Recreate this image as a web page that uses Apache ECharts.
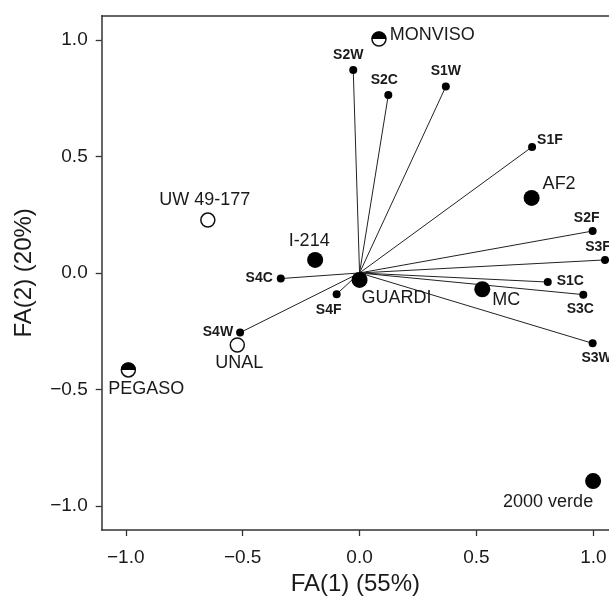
<!DOCTYPE html>
<html>
<head>
<meta charset="utf-8">
<script src="https://cdn.jsdelivr.net/npm/echarts@6/dist/echarts.min.js"></script>
<style>
  html, body { margin: 0; padding: 0; background: #fff; }
  #chart { width: 609px; height: 596px; }
</style>
</head>
<body>
<div id="chart"></div>
<script>
// loading vectors (drawn from origin)
const vectorNames = ['S2W', 'S2C', 'S1W', 'S1F', 'S2F', 'S3F', 'S1C', 'S3C', 'S3W', 'S4C', 'S4F', 'S4W'];
const vectorX = [-0.027, 0.123, 0.369, 0.738, 0.997, 1.050, 0.805, 0.957, 0.997, -0.337, -0.098, -0.511];
const vectorY = [0.871, 0.764, 0.800, 0.541, 0.180, 0.056, -0.039, -0.093, -0.302, -0.024, -0.091, -0.256];

// cultivars
const filledNames = ['AF2', 'I-214', 'GUARDI', 'MC', '2000 verde'];
const filledX = [0.736, -0.190, 0.000, 0.525, 0.999];
const filledY = [0.322, 0.056, -0.030, -0.070, -0.893];

const openNames = ['UW 49-177', 'UNAL'];
const openX = [-0.649, -0.523];
const openY = [0.227, -0.309];

const halfNames = ['MONVISO', 'PEGASO'];
const halfX = [0.083, -0.989];
const halfY = [1.004, -0.416];

const tickValues = [-1.0, -0.5, 0.0, 0.5, 1.0];

// label placement per point
const labelPlace = {
  'S2W': { position: 'top', offset: [-5, 0], distance: 4 },
  'S2C': { position: 'top', offset: [-4, 0], distance: 4 },
  'S1W': { position: 'top', offset: [0, 0], distance: 4 },
  'S1F': { position: 'right', offset: [0, -7], distance: 1 },
  'S2F': { position: 'top', offset: [-6, 0], distance: 2 },
  'S3F': { position: 'top', offset: [-7, 0], distance: 2 },
  'S1C': { position: 'right', offset: [0, -1], distance: 5 },
  'S3C': { position: 'bottom', offset: [-3, 0], distance: 4 },
  'S3W': { position: 'bottom', offset: [4, 0], distance: 4 },
  'S4C': { position: 'left', offset: [0, 0], distance: 4 },
  'S4F': { position: 'bottom', offset: [-8, 0], distance: 5 },
  'S4W': { position: 'left', offset: [0, 0], distance: 3 },
  'AF2': { position: 'right', offset: [0, -14], distance: 3 },
  'I-214': { position: 'top', offset: [-6, 0], distance: 2 },
  'GUARDI': { position: 'bottom', offset: [37, 0], distance: 1 },
  'MC': { position: 'right', offset: [0, 11], distance: 2 },
  '2000 verde': { position: 'bottom', offset: [-45, 0], distance: 4 },
  'UW 49-177': { position: 'top', offset: [-3, 0], distance: 3 },
  'UNAL': { position: 'bottom', offset: [2, 0], distance: 1 },
  'MONVISO': { position: 'right', offset: [0, -4], distance: 3 },
  'PEGASO': { position: 'bottom', offset: [18, 0], distance: 2 }
};

const font = 'Liberation Sans, Arial, sans-serif';
const ink = '#1a1a1a';
const xMin = -1.103, xMax = 1.067;
const yMin = -1.103, yMax = 1.104;

function points(names, xs, ys) {
  return names.map((n, i) => ({
    name: n,
    value: [xs[i], ys[i]],
    label: labelPlace[n]
  }));
}

function fmt(v) {
  return (v < 0 ? '\u2212' : '') + Math.abs(v).toFixed(1);
}

const cultivarLabel = {
  show: true,
  formatter: '{b}',
  color: ink,
  fontFamily: font,
  fontSize: 18
};

const axisLine = { onZero: false, lineStyle: { color: '#333', width: 1.5 } };
const axisTick = { customValues: tickValues, length: 6, lineStyle: { color: '#333', width: 1.3 } };

const chart = echarts.init(document.getElementById('chart'));
chart.setOption({
  animation: false,
  grid: { left: 101.7, top: 15.7, right: 0, bottom: 66, outerBoundsMode: 'none', containLabel: false },
  xAxis: [
    {
      type: 'value', min: xMin, max: xMax,
      name: 'FA(1) (55%)', nameLocation: 'middle', nameGap: 37,
      nameTextStyle: { fontFamily: font, fontSize: 24, color: ink },
      axisLine: axisLine,
      axisTick: axisTick,
      axisLabel: { customValues: tickValues, formatter: fmt, margin: 18, fontFamily: font, fontSize: 19, color: ink },
      splitLine: { show: false }
    },
    {
      // top frame line
      type: 'value', position: 'top', min: xMin, max: xMax,
      axisLine: axisLine,
      axisTick: { show: false },
      axisLabel: { show: false },
      splitLine: { show: false }
    }
  ],
  yAxis: {
    type: 'value', min: yMin, max: yMax,
    name: 'FA(2) (20%)', nameLocation: 'middle', nameGap: 65,
    nameTextStyle: { fontFamily: font, fontSize: 24, color: ink },
    axisLine: axisLine,
    axisTick: axisTick,
    axisLabel: { customValues: tickValues, formatter: fmt, margin: 14, fontFamily: font, fontSize: 19, color: ink },
    splitLine: { show: false }
  },
  series: [
    {
      type: 'lines',
      coordinateSystem: 'cartesian2d',
      silent: true,
      z: 1,
      lineStyle: { color: '#222', width: 1, opacity: 1 },
      data: vectorNames.map((n, i) => ({ coords: [[0, 0], [vectorX[i], vectorY[i]]] }))
    },
    {
      type: 'scatter',
      z: 3,
      symbol: 'circle',
      symbolSize: 8,
      itemStyle: { color: '#000', opacity: 1 },
      label: { show: true, formatter: '{b}', color: ink, fontFamily: font, fontSize: 14, fontWeight: 'bold' },
      data: points(vectorNames, vectorX, vectorY)
    },
    {
      type: 'scatter',
      z: 4,
      symbol: 'circle',
      symbolSize: 16,
      itemStyle: { color: '#000', opacity: 1 },
      label: cultivarLabel,
      data: points(filledNames, filledX, filledY)
    },
    {
      type: 'scatter',
      z: 4,
      symbol: 'circle',
      symbolSize: 14,
      itemStyle: { color: '#fff', borderColor: '#111', borderWidth: 1.5, opacity: 1 },
      label: cultivarLabel,
      data: points(openNames, openX, openY)
    },
    {
      type: 'scatter',
      z: 4,
      symbol: 'circle',
      symbolSize: 14,
      itemStyle: { color: '#fff', borderColor: '#111', borderWidth: 1.5, opacity: 1 },
      label: cultivarLabel,
      data: points(halfNames, halfX, halfY)
    },
    {
      // black upper half of the half-filled markers
      type: 'custom',
      z: 5,
      silent: true,
      data: halfNames.map((n, i) => [halfX[i], halfY[i]]),
      renderItem: function (params, api) {
        const p = api.coord([api.value(0), api.value(1)]);
        return {
          type: 'sector',
          shape: { cx: p[0], cy: p[1], r0: 0, r: 7.5, startAngle: Math.PI, endAngle: 2 * Math.PI, clockwise: true },
          style: { fill: '#000' }
        };
      }
    }
  ]
});
</script>
</body>
</html>
